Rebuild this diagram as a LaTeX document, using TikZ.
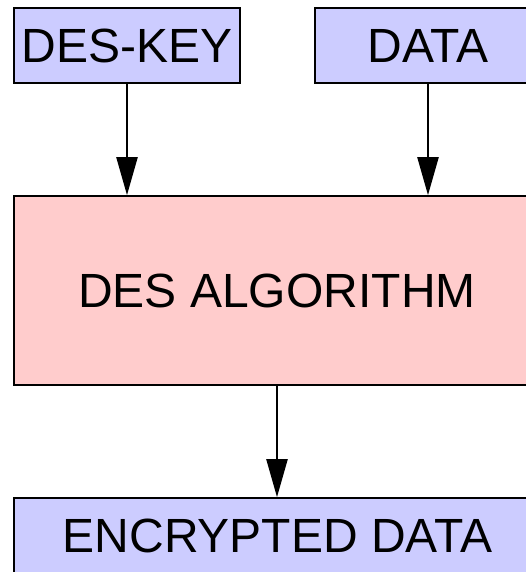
\documentclass[tikz,border=0pt]{standalone}
\usepackage{fontspec}
\setmainfont{Liberation Sans}
\usetikzlibrary{arrows.meta}
\definecolor{boxblue}{HTML}{CCCCFF}
\definecolor{boxpink}{HTML}{FFCCCC}
\begin{document}
\begin{tikzpicture}[x=1pt,y=-1pt,
  box/.style={draw=black,line width=1.6pt,inner sep=0pt,
    font=\fontsize{48}{58}\selectfont,text=black},
  flow/.style={line width=2.3pt,-{Triangle[length=38pt,width=21pt]}}]
\useasboundingbox (0,0) rectangle (526,572);
\clip (0,0) rectangle (526,572);
\node[box,fill=boxblue,minimum width=226pt,minimum height=75pt] (key) at (127,45.5) {DES-KEY};
\node[box,fill=boxblue,minimum width=226pt,minimum height=75pt] (data) at (428,45.5) {DATA};
\node[box,fill=boxpink,minimum width=526pt,minimum height=189pt] (alg) at (277,290.5) {DES ALGORITHM};
\node[box,fill=boxblue,minimum width=527pt,minimum height=75pt] (enc) at (277.5,535.5) {ENCRYPTED DATA};
\draw[flow] (key.south) -- (key.south |- alg.north);
\draw[flow] (data.south) -- (data.south |- alg.north);
\draw[flow] (alg.south) -- (alg.south |- enc.north);
\end{tikzpicture}
\end{document}
